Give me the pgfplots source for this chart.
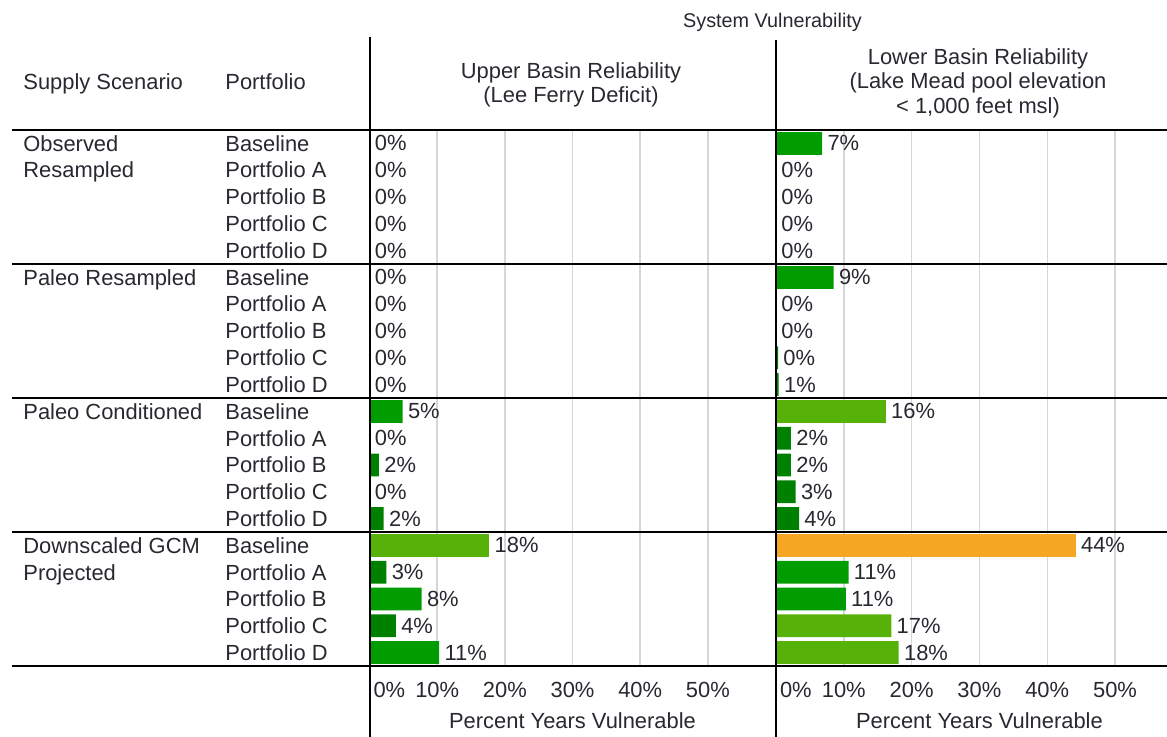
\documentclass[border=0pt]{standalone}
\usepackage{pgfplots}
\pgfplotsset{compat=1.18}
\usepackage{pgfplotstable}
\usepackage{fontspec}
\setmainfont{Liberation Sans}

\definecolor{gdark}{RGB}{0,128,0}
\definecolor{gmid}{RGB}{0,156,0}
\definecolor{glight}{RGB}{86,178,8}
\definecolor{orng}{RGB}{245,166,35}
\definecolor{txt}{RGB}{40,40,48}
\definecolor{gridc}{RGB}{214,214,214}

% r = row (0-4 observed, 5-9 paleo resampled, 10-14 paleo conditioned, 15-19 GCM)
% v = bar length read off the chart, l = printed label
\pgfplotstableread{
r v l
0 0 0
1 0 0
2 0 0
3 0 0
4 0 0
5 0 0
6 0 0
7 0 0
8 0 0
9 0 0
11 0 0
12 1.4 2
13 0 0
14 2.1 2
16 2.5 3
18 3.9 4
}\upDark
\pgfplotstableread{
r v l
10 4.9 5
17 7.7 8
19 10.3 11
}\upMid
\pgfplotstableread{
r v l
15 17.7 18
}\upLight

\pgfplotstableread{
r v l
1 0 0
2 0 0
3 0 0
4 0 0
6 0 0
7 0 0
8 0.3 0
9 0.4 1
11 2.2 2
12 2.2 2
13 2.9 3
14 3.4 4
}\loDark
\pgfplotstableread{
r v l
0 6.8 7
5 8.5 9
16 10.7 11
17 10.3 11
}\loMid
\pgfplotstableread{
r v l
10 16.2 16
18 17.0 17
19 18.1 18
}\loLight
\pgfplotstableread{
r v l
15 44.2 44
}\loOrange

\pgfplotsset{
  panel/.style={
    scale only axis, height=268pt, xmin=0,
    ymin=-0.5, ymax=19.5, y dir=reverse,
    enlargelimits=false, clip=false,
    axis line style={draw=none}, tick style={draw=none},
    xtick={0,10,...,50}, ytick=\empty, minor ytick={0.5,1.5,...,18.5},
    xmajorgrids, yminorgrids,
    major grid style={gridc, line width=0.7pt},
    minor grid style={gridc, line width=0.7pt},
    xticklabels={\makebox[0pt][l]{\hspace{2pt}0\%},10\%,20\%,30\%,40\%,50\%},
    xticklabel style={anchor=base, inner sep=0pt, yshift=-15.5pt, text=txt},
    xlabel={Percent Years Vulnerable},
    xbar, bar width=0.85, bar shift=0pt,
    point meta=explicit,
    nodes near coords={\pgfmathprintnumber{\pgfplotspointmeta}\%},
    nodes near coords style={anchor=west, inner sep=0pt, xshift=2.5pt, text=txt},
    /pgf/number format/assume math mode=true,
  },
}

\begin{document}
\begin{tikzpicture}[font=\fontsize{10.95}{13}\selectfont,
  rowlab/.style={anchor=west, inner sep=0pt, text height=7.8pt, text depth=0pt, text=txt},
  head/.style={anchor=base, inner sep=0pt, text=txt}]

% Upper Basin
\begin{axis}[panel, at={(184.75pt,-65pt)}, anchor=north west, width=203pt, xmax=60,
  xlabel style={at={(axis description cs:0.5,0)}, anchor=base, inner sep=0pt, yshift=-31pt, text=txt}]
\addplot[fill=gdark, draw=none] table[x=v, y=r, meta=l] {\upDark};
\addplot[fill=gmid, draw=none] table[x=v, y=r, meta=l] {\upMid};
\addplot[fill=glight, draw=none] table[x=v, y=r, meta=l] {\upLight};
\end{axis}

% Lower Basin (cut at the right edge, as in the source)
\begin{axis}[panel, at={(388pt,-65pt)}, anchor=north west, width=195.5pt, xmax=57.67,
  xlabel style={at={(axis description cs:0.5202,0)}, anchor=base, inner sep=0pt, yshift=-31pt, text=txt}]
\addplot[fill=gdark, draw=none] table[x=v, y=r, meta=l] {\loDark};
\addplot[fill=gmid, draw=none] table[x=v, y=r, meta=l] {\loMid};
\addplot[fill=glight, draw=none] table[x=v, y=r, meta=l] {\loLight};
\addplot[fill=orng, draw=none] table[x=v, y=r, meta=l] {\loOrange};
\end{axis}

% table rules
\foreach \yy in {65,132,199,266,333}
  \draw[line width=1pt] (6pt,-\yy pt) -- (583.5pt,-\yy pt);
\draw[line width=1pt] (184.75pt,-18.5pt) -- (184.75pt,-368.5pt);
\draw[line width=1pt] (388pt,-20pt) -- (388pt,-368.5pt);

% headers
\node[head, font=\fontsize{9.9}{11.8}\selectfont] at (386.25pt,-14pt) {System Vulnerability};
\node[head] at (11.5pt,-45pt) [anchor=base west] {Supply Scenario};
\node[head] at (112.5pt,-45pt) [anchor=base west] {Portfolio};
\node[head] at (285.5pt,-39.5pt) {Upper Basin Reliability};
\node[head] at (285.5pt,-51.5pt) {(Lee Ferry Deficit)};
\node[head] at (489pt,-32.5pt) {Lower Basin Reliability};
\node[head] at (489pt,-44.5pt) {(Lake Mead pool elevation};
\node[head] at (489pt,-57pt) {< 1,000 feet msl)};

% row labels
\foreach \g in {0,...,3}
  \foreach \p [count=\k from 0] in {Baseline,Portfolio A,Portfolio B,Portfolio C,Portfolio D} {
    \pgfmathsetmacro\yy{65+13.4*(5*\g+\k+0.5)}
    \node[rowlab] at (112.5pt,-\yy pt) {\p};
  }
\foreach \r/\s in {0/Observed,1/Resampled,5/Paleo Resampled,10/Paleo Conditioned,15/Downscaled GCM,16/Projected} {
  \pgfmathsetmacro\yy{65+13.4*(\r+0.5)}
  \node[rowlab] at (11.5pt,-\yy pt) {\s};
}

\pgfresetboundingbox
\path[use as bounding box] (0pt,0pt) rectangle (583.5pt,-368.5pt);
\end{tikzpicture}
\end{document}
